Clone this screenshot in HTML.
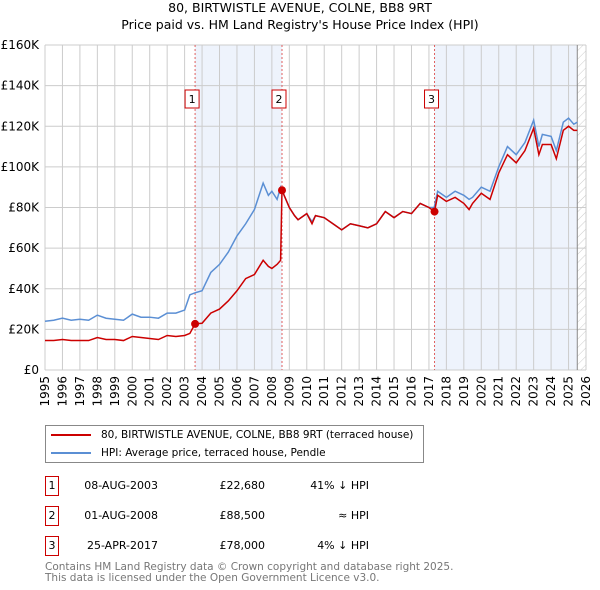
<!DOCTYPE html>
<html><head><meta charset="utf-8"><style>
body{margin:0;background:#fff;font-family:"DejaVu Sans","Liberation Sans",sans-serif;}
#wrap{position:relative;width:600px;height:590px;overflow:hidden;}
.t{position:absolute;font-size:11px;color:#000;white-space:nowrap;}
svg text{font-family:"DejaVu Sans","Liberation Sans",sans-serif;}
</style></head><body>
<div id="wrap">
<svg id="chart" width="600" height="420" style="position:absolute;left:0;top:0"></svg>
<div style="position:absolute;left:45px;top:425px;width:377px;height:36px;border:1px solid #888;">
 <div style="position:absolute;left:5px;top:3px;font-size:10.5px;"><span style="display:inline-block;width:40px;height:2px;background:#cc0000;vertical-align:middle;margin-right:10px"></span>80, BIRTWISTLE AVENUE, COLNE, BB8 9RT (terraced house)</div>
 <div style="position:absolute;left:5px;top:21px;font-size:10.5px;"><span style="display:inline-block;width:40px;height:2px;background:#5b8fd4;vertical-align:middle;margin-right:10px"></span>HPI: Average price, terraced house, Pendle</div>
</div>
<div id="rows"></div>
<div class="t" style="left:45px;top:562px;font-size:10.5px;color:#777;line-height:11px">Contains HM Land Registry data © Crown copyright and database right 2025.<br>This data is licensed under the Open Government Licence v3.0.</div>
</div>
<script>
const hpiYears=[1995,1995.5,1996,1996.5,1997,1997.5,1998,1998.5,1999,1999.5,2000,2000.5,2001,2001.5,2002,2002.5,2003,2003.3,2003.6,2004,2004.5,2005,2005.5,2006,2006.5,2007,2007.5,2007.8,2008,2008.3,2008.5,2009,2009.3,2009.5,2010,2010.3,2010.5,2011,2011.5,2012,2012.5,2013,2013.5,2014,2014.5,2015,2015.5,2016,2016.5,2017,2017.3,2017.5,2018,2018.5,2019,2019.3,2019.5,2020,2020.5,2021,2021.5,2022,2022.5,2023,2023.3,2023.5,2024,2024.3,2024.7,2025,2025.3,2025.5];
const hpiValues=[24,24.5,25.5,24.5,25,24.5,27,25.5,25,24.5,27.5,26,26,25.5,28,28,29.5,37,38,39,48,52,58,66,72,79,92,86,88,84,90,80,76,74,77,73,76,75,72,69,72,71,70,72,78,75,78,77,82,80,80,88,85,88,86,84,85,90,88,100,110,106,112,123,110,116,115,108,122,124,121,122];
const ppYears=[1995,1995.5,1996,1996.5,1997,1997.5,1998,1998.5,1999,1999.5,2000,2000.5,2001,2001.5,2002,2002.5,2003,2003.3,2003.6,2004,2004.5,2005,2005.5,2006,2006.5,2007,2007.5,2007.8,2008,2008.3,2008.5,2008.58,2009,2009.3,2009.5,2010,2010.3,2010.5,2011,2011.5,2012,2012.5,2013,2013.5,2014,2014.5,2015,2015.5,2016,2016.5,2017,2017.32,2017.5,2018,2018.5,2019,2019.3,2019.5,2020,2020.5,2021,2021.5,2022,2022.5,2023,2023.3,2023.5,2024,2024.3,2024.7,2025,2025.3,2025.5];
const ppValues=[14.5,14.5,15,14.5,14.5,14.5,16,15,15,14.5,16.5,16,15.5,15,17,16.5,17,18,22.7,23,28,30,34,39,45,47,54,51,50,52,54,88.5,80,76,74,77,72,76,75,72,69,72,71,70,72,78,75,78,77,82,80,78,86,83,85,82,79,82,87,84,97,106,102,108,119,106,111,111,104,118,120,118,118];
const sales=[{id:"1",x:2003.6,y:22.68,date:"08-AUG-2003",price:"£22,680",rel:"41% ↓ HPI"},{id:"2",x:2008.58,y:88.5,date:"01-AUG-2008",price:"£88,500",rel:"≈ HPI"},{id:"3",x:2017.32,y:78,date:"25-APR-2017",price:"£78,000",rel:"4% ↓ HPI"}];
const yTicks=[0,20,40,60,80,100,120,140,160];
const xTicks=[1995,1996,1997,1998,1999,2000,2001,2002,2003,2004,2005,2006,2007,2008,2009,2010,2011,2012,2013,2014,2015,2016,2017,2018,2019,2020,2021,2022,2023,2024,2025,2026];
const L=45,R=586,T=45,B=370;
const sx=v=>L+(v-1995)/31*(R-L), sy=v=>B-v/160*(B-T);
const NS="http://www.w3.org/2000/svg", svg=document.getElementById('chart');
function mk(tag,at,parent){const e=document.createElementNS(NS,tag);for(const k in at)e.setAttribute(k,at[k]);(parent||svg).appendChild(e);return e;}
const tt=mk('text',{x:300,y:12,'text-anchor':'middle','font-size':12.5});tt.textContent="80, BIRTWISTLE AVENUE, COLNE, BB8 9RT";


const st=mk('text',{x:300,y:29,'text-anchor':'middle','font-size':12.5});st.textContent="Price paid vs. HM Land Registry's House Price Index (HPI)";


const defs=mk('defs',{});const pat=mk('pattern',{id:'h',width:6,height:6,patternUnits:'userSpaceOnUse',patternTransform:'rotate(45)'},defs);mk('line',{x1:0,y1:0,x2:0,y2:6,stroke:'#ccc','stroke-width':1},pat);
const s1=mk('rect',{x:sx(2003.6),y:T,width:sx(2008.58)-sx(2003.6),height:B-T,fill:'#eef3fc'});


const s2=mk('rect',{x:sx(2017.32),y:T,width:sx(2025.5)-sx(2017.32),height:B-T,fill:'#eef3fc'});


const hf=mk('rect',{x:sx(2025.5),y:T,width:R-sx(2025.5),height:B-T,fill:'url(#h)'});


xTicks.forEach(y=>{mk('line',{x1:sx(y),x2:sx(y),y1:T,y2:B,stroke:'#ccc'});const t=mk('text',{x:0,y:0,'text-anchor':'end','font-size':12,transform:`translate(${sx(y)+4},${B+6}) rotate(-90)`});t.textContent=y;

});
yTicks.forEach(v=>{mk('line',{x1:L,x2:R,y1:sy(v),y2:sy(v),stroke:'#ccc'});const t=mk('text',{x:39,y:sy(v)+4,'text-anchor':'end','font-size':12});t.textContent=v?('£'+v+'K'):'£0';

});
mk('line',{x1:sx(2025.5),x2:sx(2025.5),y1:T,y2:B,stroke:'#888'});
sales.forEach(s=>{mk('line',{x1:sx(s.x),x2:sx(s.x),y1:T,y2:B,stroke:'#e06060','stroke-dasharray':'2,2'});
 const g=mk('g',{});
 
 mk('rect',{x:sx(s.x)-10,y:90,width:14,height:18,fill:'#fff',stroke:'#cc0000'},g);const t=mk('text',{x:sx(s.x)-3,y:103,'text-anchor':'middle','font-size':11},g);t.textContent=s.id;});
function line(xs,vs,c,n){const p=mk('polyline',{points:xs.map((x,i)=>sx(x)+','+sy(vs[i])).join(' '),fill:'none',stroke:c,'stroke-width':1.5});

}
line(hpiYears,hpiValues,'#5b8fd4','hpi-line');
line(ppYears,ppValues,'#cc0000','price-paid-line');
sales.forEach(s=>{const c=mk('circle',{cx:sx(s.x),cy:sy(s.y),r:4,fill:'#cc0000'});

});
const rows=document.getElementById('rows');
sales.forEach((s,i)=>{const y=476+i*30;
 rows.insertAdjacentHTML('beforeend',`<div>
 <div class="t" style="left:45px;top:${y}px;width:12px;height:18px;border:1px solid #cc0000;text-align:center;line-height:18px">${s.id}</div>
 <div class="t" style="left:70px;top:${y+3}px;width:88px;text-align:right">${s.date}</div>
 <div class="t" style="left:190px;top:${y+3}px;width:75px;text-align:right">${s.price}</div>
 <div class="t" style="left:290px;top:${y+3}px;width:79px;text-align:right">${s.rel}</div></div>`);});
</script>
</body></html>
